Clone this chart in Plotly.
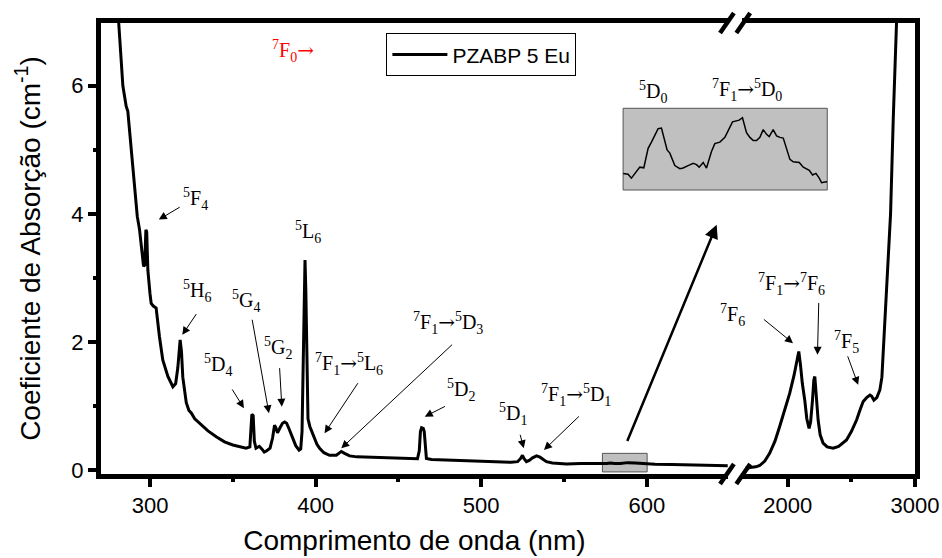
import plotly.graph_objects as go

# ---------------- data ----------------
# UV-Vis segment (nm, absorption coefficient cm^-1)
wl_vis = [279.5, 281.1, 283.6, 285.6, 286.6, 288.6, 290.6, 292.3, 293.7, 295.3, 296.1, 296.8, 297.5, 298.0,
          298.4, 298.7, 300.0, 300.7, 302.0, 303.7, 305.7, 307.7, 310.8, 313.8, 315.5, 316.8, 318.2, 319.0,
          319.8, 321.9, 323.5, 324.9, 327.0, 329.9, 335.0, 340.0, 345.0, 350.0, 355.0, 358.0, 360.3, 361.0,
          361.5, 362.3, 363.0, 364.0, 366.0, 367.5, 369.0, 370.5, 372.5, 374.0, 375.2, 376.0, 377.0, 378.5,
          380.0, 381.3, 382.5, 384.0, 386.0, 388.0, 390.0, 391.0, 391.8, 392.5, 393.2, 393.6, 394.1, 394.7,
          395.4, 396.5, 397.4, 398.5, 399.4, 400.8, 402.4, 405.0, 408.4, 412.5, 414.0, 415.5, 417.5, 420.5,
          425.0, 430.6, 440.0, 450.7, 458.0, 461.5, 462.6, 463.3, 464.0, 465.0, 465.6, 466.2, 466.9, 470.0,
          480.0, 491.0, 500.0, 511.0, 518.0, 522.0, 523.8, 524.9, 525.8, 527.3, 529.0, 531.0, 533.4, 535.5,
          537.5, 539.4, 543.0, 551.5, 560.0, 566.0, 572.0, 576.0, 578.0, 580.5, 584.0, 588.5, 593.0, 597.0,
          600.0, 605.0, 615.0, 625.0, 635.0, 642.0, 649.0]
abs_vis = [7.5, 6.98, 6.0, 5.68, 5.60, 5.0, 4.43, 3.96, 3.75, 3.39, 3.18, 3.2, 3.75, 3.72,
           3.2, 3.12, 2.75, 2.60, 2.56, 2.53, 2.08, 1.72, 1.46, 1.30, 1.35, 1.60, 2.03, 1.85,
           1.45, 1.05, 0.93, 0.89, 0.80, 0.73, 0.61, 0.52, 0.44, 0.39, 0.36, 0.34, 0.36, 0.70,
           0.87, 0.85, 0.45, 0.34, 0.37, 0.33, 0.28, 0.30, 0.34, 0.50, 0.70, 0.66, 0.58, 0.66,
           0.73, 0.75, 0.73, 0.64, 0.50, 0.38, 0.31, 0.33, 0.60, 1.5, 2.9, 3.28, 2.8, 1.5,
           0.80, 0.68, 0.62, 0.56, 0.50, 0.40, 0.34, 0.27, 0.23, 0.23, 0.26, 0.29, 0.26, 0.22,
           0.205, 0.20, 0.19, 0.18, 0.17, 0.175, 0.30, 0.60, 0.66, 0.65, 0.60, 0.35, 0.18, 0.165,
           0.155, 0.145, 0.135, 0.12, 0.12, 0.13, 0.18, 0.23, 0.18, 0.13, 0.15, 0.19, 0.22, 0.20,
           0.16, 0.13, 0.11, 0.095, 0.10, 0.10, 0.095, 0.10, 0.11, 0.10, 0.10, 0.115, 0.11, 0.10,
           0.095, 0.09, 0.085, 0.08, 0.075, 0.07, 0.065]

# IR segment
wl_ir = [1670, 1700, 1750, 1780, 1820, 1858, 1900, 1937, 1980, 2016, 2050, 2070, 2087, 2100, 2115, 2134,
         2150, 2168, 2180, 2195, 2205, 2213, 2222, 2230, 2239, 2255, 2278, 2310, 2357, 2400, 2462, 2500,
         2541, 2570, 2593, 2620, 2646, 2660, 2677, 2700, 2724, 2740, 2750, 2765, 2777, 2792, 2808, 2829,
         2842, 2855, 2862]
abs_ir = [0.03, 0.035, 0.05, 0.07, 0.14, 0.26, 0.45, 0.68, 0.95, 1.20, 1.48, 1.70, 1.85, 1.65, 1.35, 1.09,
          0.80, 0.65, 0.75, 1.10, 1.40, 1.46, 1.20, 0.95, 0.78, 0.55, 0.42, 0.36, 0.34, 0.37, 0.47, 0.60,
          0.78, 0.95, 1.07, 1.13, 1.17, 1.15, 1.09, 1.13, 1.25, 1.45, 1.82, 2.35, 2.86, 3.5, 4.0, 5.47,
          6.2, 6.95, 7.4]

# Inset (zoom of 573-600 nm region)
wl_inset = [573.20, 573.86, 574.30, 574.96, 575.41, 575.94, 576.51, 576.95, 577.83, 578.27, 579.02, 579.38,
            580.04, 580.70, 581.14, 581.80, 582.47, 582.91, 583.26, 583.79, 584.23, 584.89, 585.33, 586.00,
            586.66, 587.67, 588.20, 588.55, 588.99, 589.52, 589.97, 590.41, 590.85, 591.29, 591.73, 592.17,
            592.52, 593.05, 593.50, 593.94, 594.38, 594.82, 595.26, 595.70, 596.50, 597.03, 597.82, 598.26,
            598.70, 599.14, 599.45, 599.89, 600.20]
abs_inset = [0.0810, 0.0803, 0.0773, 0.0822, 0.0859, 0.0854, 0.1006, 0.1055, 0.1160, 0.1165, 0.0994, 0.0969,
             0.0871, 0.0847, 0.0852, 0.0871, 0.0889, 0.0879, 0.0859, 0.0896, 0.0852, 0.0982, 0.1043, 0.1055,
             0.1092, 0.1214, 0.1219, 0.1227, 0.1246, 0.1129, 0.1092, 0.1067, 0.1067, 0.1092, 0.1153, 0.1116,
             0.1099, 0.1153, 0.1104, 0.1092, 0.1087, 0.0994, 0.0920, 0.0901, 0.0896, 0.0859, 0.0835, 0.0798,
             0.0810, 0.0773, 0.0737, 0.0742, 0.0744]

x1_ticks = [300, 400, 500, 600]
x2_ticks = [2000, 3000]
y_ticks = [0, 2, 4, 6]

SERIES = "PZABP 5 Eu"
XTITLE = "Comprimento de onda (nm)"
YTITLE = "Coeficiente de Absorção (cm<sup>-1</sup>)"

# ---------------- figure ----------------
SANS = "Arial, Liberation Sans, sans-serif"
SERIF = "Times New Roman, Liberation Serif, serif"

fig = go.Figure()
fig.add_trace(go.Scatter(x=wl_vis, y=abs_vis, mode="lines", name=SERIES,
                         line=dict(color="black", width=3), xaxis="x", yaxis="y"))
fig.add_trace(go.Scatter(x=wl_ir, y=abs_ir, mode="lines", showlegend=False,
                         line=dict(color="black", width=3), xaxis="x2", yaxis="y2"))
fig.add_trace(go.Scatter(x=wl_inset, y=abs_inset, mode="lines", showlegend=False,
                         line=dict(color="black", width=1.5), xaxis="x3", yaxis="y3"))

YR = [-0.0625, 6.98]
axis_common = dict(showline=True, linewidth=5, linecolor="black", ticks="outside",
                   ticklen=8, tickwidth=4, tickcolor="black", showgrid=False, zeroline=False,
                   automargin=False,
                   tickfont=dict(family=SANS, size=22, color="black"))

INSET_X = [0.6414, 0.8922]
INSET_Y = [0.6297, 0.8109]

fig.update_layout(
    xaxis=dict(domain=[0, 0.770], range=[270.4, 648.9], anchor="y", mirror=True,
               tickvals=x1_ticks,
               minor=dict(dtick=50, tick0=0, ticks="outside", ticklen=3, tickwidth=4, tickcolor="black"),
               title=dict(text=XTITLE, font=dict(family=SANS, size=28, color="black"), standoff=14),
               **axis_common),
    xaxis2=dict(domain=[0.787, 1.0], range=[1638, 3000], anchor="y2", mirror=True,
                tickvals=x2_ticks,
                minor=dict(dtick=500, tick0=0, ticks="outside", ticklen=3, tickwidth=4, tickcolor="black"),
                **axis_common),
    yaxis=dict(domain=[0, 1], range=YR, anchor="x", tickvals=y_ticks,
               minor=dict(dtick=1, tick0=0, ticks="outside", ticklen=3, tickwidth=4, tickcolor="black"),
               title=dict(text=YTITLE, font=dict(family=SANS, size=28, color="black"), standoff=24),
               **axis_common),
    yaxis2=dict(range=YR, overlaying="y", anchor="x2", side="right", showline=True, linewidth=5,
                linecolor="black", ticks="", showticklabels=False, showgrid=False, zeroline=False,
                automargin=False),
    xaxis3=dict(domain=INSET_X, range=[573.2, 600.2], anchor="y3", visible=False),
    yaxis3=dict(domain=INSET_Y, range=[0.068, 0.132], anchor="x3", visible=False),
    width=942, height=558,
    margin=dict(l=101, r=27, t=23, b=84, autoexpand=False),
    paper_bgcolor="white", plot_bgcolor="rgba(0,0,0,0)",
    showlegend=True,
    legend=dict(x=0.3506, y=0.977, xanchor="left", yanchor="top", bordercolor="black", borderwidth=1,
                bgcolor="white", font=dict(family=SANS, size=21, color="black"), itemwidth=55,
                tracegroupgap=0),
)

# shapes: grey boxes and axis-break marks
shapes = [
    dict(type="rect", xref="x", yref="y", x0=573.2, x1=600.2, y0=-0.03, y1=0.26,
         fillcolor="#bfbfbf", line=dict(color="#555555", width=1), layer="below"),
    dict(type="rect", xref="paper", yref="paper", x0=INSET_X[0], x1=INSET_X[1], y0=INSET_Y[0], y1=INSET_Y[1],
         fillcolor="#c0c0c0", line=dict(color="#555555", width=1), layer="below"),
]
for cx in (0.769, 0.789):
    for cy in (0.0, 1.0):
        shapes.append(dict(type="line", xref="paper", yref="paper",
                           x0=cx - 0.0085, x1=cx + 0.0085, y0=cy - 0.022, y1=cy + 0.022,
                           line=dict(color="black", width=4.5)))
fig.update_layout(shapes=shapes)

# annotations: arrows (tip in data coords, tail offset in px)
arrows = [
    ("x", 305.3, 3.91, 22.4, -13.3, 1),
    ("x", 319.5, 2.11, 15, -22.3, 1),
    ("x", 371.8, 0.886, -17, -95, 1),
    ("x", 379.6, 0.989, -2.3, -40, 1),
    ("x", 356.7, 0.964, -12.6, -20.3, 1),
    ("x", 405.4, 0.573, 34.3, -51.6, 1),
    ("x", 415.5, 0.339, 112.3, -105, 1),
    ("x", 465.9, 0.833, 21.7, -11, 1),
    ("x", 525.7, 0.339, -4, -15, 1),
    ("x", 537.9, 0.3125, 36.4, -35, 1),
    ("x", 642.2, 3.83, -90, 217.7, 2.5),
    ("x2", 2041.7, 1.98, -30.6, -25, 1),
    ("x2", 2233.9, 1.80, 1.3, -53.3, 1),
    ("x2", 2553.5, 1.33, -11, -30, 1),
]
ann = []
for xr, x, y, ax, ay, w in arrows:
    ann.append(dict(xref=xr, yref="y", x=x, y=y, ax=ax, ay=ay, text="", showarrow=True,
                    arrowhead=2, arrowsize=1.6 if w < 2 else 1.1, arrowwidth=w, arrowcolor="black",
                    standoff=0, startstandoff=0))

def lab(a, b, c):
    return f"<sup>{a}</sup>{b}<sub>{c}</sub>"

ARROW = '<span style="font-family:DejaVu Serif">→</span>'

labels = [
    ("x", "y", 327.2, 4.23, lab(5, "F", 4), "black"),
    ("x", "y", 328.4, 2.80, lab(5, "H", 6), "black"),
    ("x", "y", 357.7, 2.64, lab(5, "G", 4), "black"),
    ("x", "y", 377.3, 1.91, lab(5, "G", 2), "black"),
    ("x", "y", 341.1, 1.64, lab(5, "D", 4), "black"),
    ("x", "y", 395.5, 3.71, lab(5, "L", 6), "black"),
    ("x", "y", 419.9, 1.66, lab(7, "F", 1) + ARROW + lab(5, "L", 6), "black"),
    ("x", "y", 480.1, 2.30, lab(7, "F", 1) + ARROW + lab(5, "D", 3), "black"),
    ("x", "y", 487.6, 1.25, lab(5, "D", 2), "black"),
    ("x", "y", 519.3, 0.875, lab(5, "D", 1), "black"),
    ("x", "y", 557.4, 1.17, lab(7, "F", 1) + ARROW + lab(5, "D", 1), "black"),
    ("x", "y", 603.6, 5.91, lab(5, "D", 0), "black"),
    ("paper", "paper", 0.794, 0.851, lab(7, "F", 1) + ARROW + lab(5, "D", 0), "black"),
    ("x2", "y", 2031.5, 2.91, lab(7, "F", 1) + ARROW + lab(7, "F", 6), "black"),
    ("paper", "paper", 0.776, 0.3525, lab(7, "F", 6), "black"),
    ("x2", "y", 2460.6, 2.0, lab(7, "F", 5), "black"),
    ("x", "y", 386.1, 6.55, lab(7, "F", 0) + ARROW, "red"),
]
for xr, yr, x, y, t, c in labels:
    ann.append(dict(xref=xr, yref=yr, x=x, y=y, text=t, showarrow=False, xanchor="center",
                    yanchor="middle", font=dict(family=SERIF, size=20, color=c)))
fig.update_layout(annotations=ann)

fig.write_html("out.html")
